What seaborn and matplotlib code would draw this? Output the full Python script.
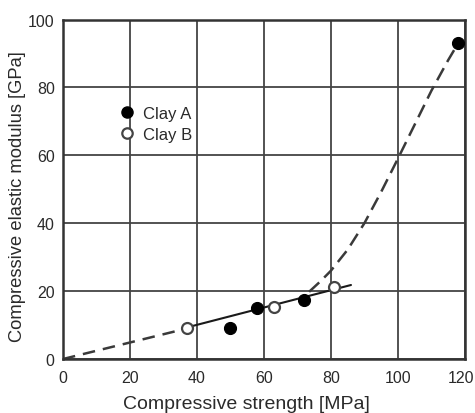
import matplotlib
matplotlib.use("Agg")
import matplotlib.pyplot as plt
import matplotlib.transforms as mtransforms
from matplotlib.lines import Line2D
import seaborn as sns
import pandas as pd

# data
clay_a_x = [50, 58, 72, 118]
clay_a_y = [9, 15, 17.5, 93]
clay_b_x = [37, 63, 81]
clay_b_y = [9, 15.3, 21.3]

solid_x = [37, 86]
solid_y = [9.3, 21.8]
dash_low_x = [0, 37]
dash_low_y = [0, 9]
dash_curve_x = [73.5, 77, 80, 85, 90, 95, 100, 105, 110, 115, 118]
dash_curve_y = [19.8, 23, 26, 32.2, 40, 49.2, 59, 69, 79, 88, 93]

x_ticks = [0, 20, 40, 60, 80, 100, 120]
y_ticks = [0, 20, 40, 60, 80, 100]

sns.set_style("white")
plt.rcParams['font.family'] = ['Liberation Sans', 'DejaVu Sans']

fig = plt.figure(figsize=(4.75, 4.14), dpi=100)
ax = fig.add_axes([0.1326, 0.1304, 0.846, 0.82])

dfa = pd.DataFrame({"x": clay_a_x, "y": clay_a_y})
dfb = pd.DataFrame({"x": clay_b_x, "y": clay_b_y})

line_col = "#3a3a3a"
sns.lineplot(x=dash_low_x, y=dash_low_y, ax=ax, color=line_col, lw=1.8,
             linestyle=(0, (5, 3.2)))
sns.lineplot(x=dash_curve_x, y=dash_curve_y, ax=ax, color=line_col, lw=1.8,
             linestyle=(0, (5.5, 2.8)))
sns.lineplot(x=solid_x, y=solid_y, ax=ax, color="#1a1a1a", lw=1.5)

sns.scatterplot(data=dfa, x="x", y="y", ax=ax, s=75, color="black",
                edgecolor="black", linewidth=0.8, zorder=5)
sns.scatterplot(data=dfb, x="x", y="y", ax=ax, s=62, color="white",
                edgecolor="#444444", linewidth=1.6, zorder=5)

ax.set_xlim(0, 120)
ax.set_ylim(0, 100)
ax.set_xticks(x_ticks)
ax.set_yticks(y_ticks)
ax.set_xticklabels([str(t) for t in x_ticks], fontsize=11.5, color="#2a2a2a")
ax.set_yticklabels([str(t) for t in y_ticks], fontsize=11.5, color="#2a2a2a")
ax.tick_params(axis="x", length=0, pad=8)
ax.tick_params(axis="y", length=0, pad=6)
last = ax.get_xticklabels()[-1]
last.set_transform(last.get_transform() + mtransforms.ScaledTranslation(-4 / 100, 0, fig.dpi_scale_trans))
ax.grid(True, color="#444444", lw=1.3)
ax.set_axisbelow(True)
for s in ax.spines.values():
    s.set_color("#333333")
    s.set_linewidth(1.8)

ax.set_xlabel("Compressive strength [MPa]", fontsize=14, color="#2a2a2a")
ax.xaxis.set_label_coords(0.456, -0.105)
ax.set_ylabel("Compressive elastic modulus [GPa]", fontsize=13.2, color="#2a2a2a")
ax.yaxis.label.set_va("center")
ax.yaxis.set_label_coords(-0.113, 0.48)

handles = [
    Line2D([], [], marker="o", ls="none", color="black", markersize=8),
    Line2D([], [], marker="o", ls="none", markerfacecolor="white",
           markeredgecolor="#444444", markeredgewidth=1.6, markersize=7.5),
]
ax.legend(handles, ["Clay A", "Clay B"], loc="upper left",
          bbox_to_anchor=(0.1, 0.79), frameon=False, fontsize=12,
          handletextpad=0.5, labelspacing=0.35, handlelength=1.0,
          labelcolor="#2a2a2a")

fig.savefig("out.png", dpi=100)
